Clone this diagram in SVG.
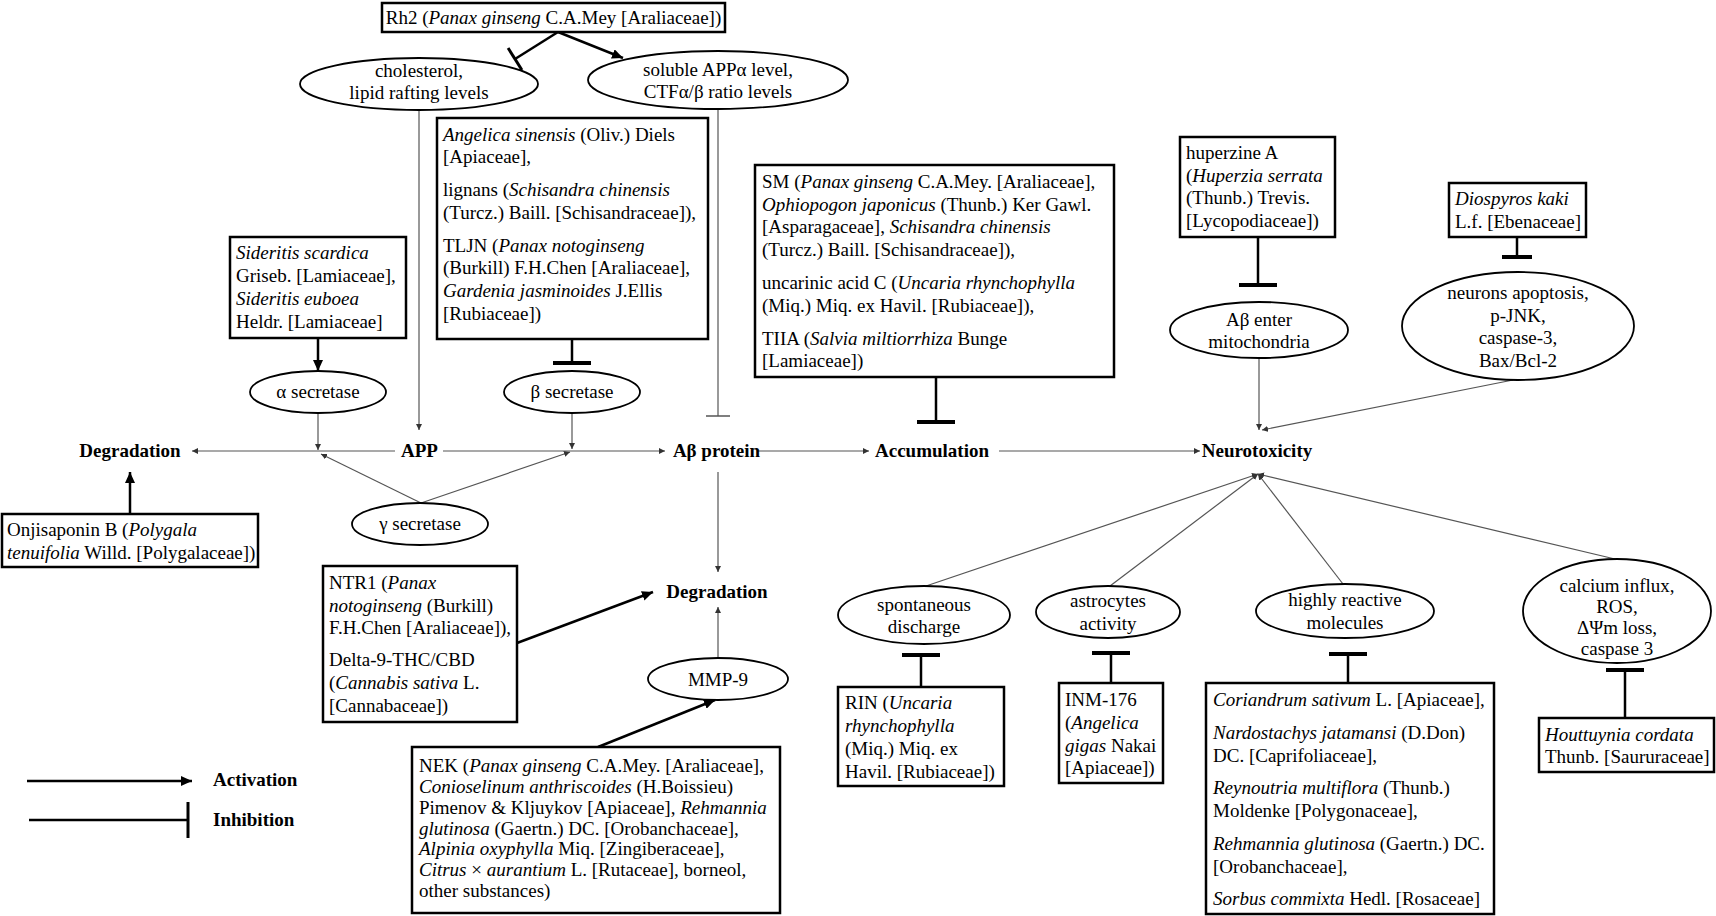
<svg xmlns="http://www.w3.org/2000/svg" width="1716" height="916" viewBox="0 0 1716 916">
<style>
.box{fill:#fff;stroke:#000;stroke-width:2.5}
.ell{fill:#fff;stroke:#000;stroke-width:1.8}
.t{font-family:"Liberation Serif","Times New Roman",serif;font-size:19px;fill:#000}
.b{font-weight:bold}
.c{text-anchor:middle}
.i{font-style:italic}
.thick{stroke:#000;stroke-width:2.5;fill:none}
.thin{stroke:#555;stroke-width:1.2;fill:none}
</style>
<defs>
<marker id="ah" markerUnits="userSpaceOnUse" markerWidth="12" markerHeight="10" refX="11" refY="5" orient="auto"><path d="M0,0 L11,5 L0,10 z" fill="#000"/></marker>
<marker id="as" markerUnits="userSpaceOnUse" markerWidth="7" markerHeight="6" refX="6" refY="3" orient="auto"><path d="M0,0 L6,3 L0,6 z" fill="#333"/></marker>
<marker id="tee" markerUnits="userSpaceOnUse" markerWidth="6" markerHeight="40" refX="3" refY="20" orient="auto"><path d="M3,1 L3,39" stroke="#000" stroke-width="4"/></marker>
<marker id="teeS" markerUnits="userSpaceOnUse" markerWidth="6" markerHeight="32" refX="3" refY="16" orient="auto"><path d="M3,1 L3,31" stroke="#000" stroke-width="4"/></marker>
<marker id="teeR" markerUnits="userSpaceOnUse" markerWidth="6" markerHeight="28" refX="3" refY="14" orient="auto"><path d="M3,1 L3,27" stroke="#000" stroke-width="3"/></marker>
<marker id="teeL" markerUnits="userSpaceOnUse" markerWidth="6" markerHeight="38" refX="3" refY="19" orient="auto"><path d="M3,1 L3,37" stroke="#000" stroke-width="3"/></marker>
<marker id="teeT" markerUnits="userSpaceOnUse" markerWidth="4" markerHeight="26" refX="2" refY="13" orient="auto"><path d="M2,1 L2,25" stroke="#555" stroke-width="1.5"/></marker>
</defs>

<g id="connectors">
<path class="thick" d="M558,32 L515,59" marker-end="url(#teeR)"/>
<path class="thick" d="M558,32 L623,58" marker-end="url(#ah)"/>
<path class="thick" d="M318,338 L318,371" marker-end="url(#ah)"/>
<path class="thick" d="M572,339 L572,363" marker-end="url(#tee)"/>
<path class="thick" d="M936,377 L936,422" marker-end="url(#tee)"/>
<path class="thick" d="M1258,237 L1258,285" marker-end="url(#tee)"/>
<path class="thick" d="M1517,237 L1517,257" marker-end="url(#teeS)"/>
<path class="thick" d="M130,514 L130,472" marker-end="url(#ah)"/>
<path class="thick" d="M517,643 L653,592" marker-end="url(#ah)"/>
<path class="thick" d="M598,747 L715,700" marker-end="url(#ah)"/>
<path class="thick" d="M921,687 L921,655" marker-end="url(#tee)"/>
<path class="thick" d="M1111,683 L1111,653" marker-end="url(#tee)"/>
<path class="thick" d="M1348,683 L1348,654" marker-end="url(#tee)"/>
<path class="thick" d="M1625,718 L1625,670" marker-end="url(#tee)"/>
<path class="thin" d="M419,110 L419,430" marker-end="url(#as)"/>
<path class="thin" d="M718,109 L718,416" marker-end="url(#teeT)"/>
<path class="thin" d="M395,451 L192,451" marker-end="url(#as)"/>
<path class="thin" d="M443,451 L665,451" marker-end="url(#as)"/>
<path class="thin" d="M318,413 L318,450" marker-end="url(#as)"/>
<path class="thin" d="M572,413 L572,449" marker-end="url(#as)"/>
<path class="thin" d="M421,503 L321,454" marker-end="url(#as)"/>
<path class="thin" d="M421,503 L570,452" marker-end="url(#as)"/>
<path class="thin" d="M757,451 L869,451" marker-end="url(#as)"/>
<path class="thin" d="M718,472 L718,572" marker-end="url(#as)"/>
<path class="thin" d="M718,658 L718,607" marker-end="url(#as)"/>
<path class="thin" d="M999,451 L1200,451" marker-end="url(#as)"/>
<path class="thin" d="M1259,358 L1259,430" marker-end="url(#as)"/>
<path class="thin" d="M1513,380 L1262,430" marker-end="url(#as)"/>
<path class="thin" d="M926,586 L1258,474" marker-end="url(#as)"/>
<path class="thin" d="M1110,586 L1258,474" marker-end="url(#as)"/>
<path class="thin" d="M1343,584 L1258,474" marker-end="url(#as)"/>
<path class="thin" d="M1615,559 L1258,474" marker-end="url(#as)"/>
</g>

<g id="legend">
<path class="thick" d="M27,781 L192,781" marker-end="url(#ah)"/>
<path class="thick" d="M29,820 L188,820" marker-end="url(#teeL)"/>
<text class="t b" x="213" y="786">Activation</text>
<text class="t b" x="213" y="826">Inhibition</text>
</g>

<g id="rh2"><rect class="box" x="382" y="3" width="343" height="29"/>
<text class="t c" x="553.5" y="24">Rh2 (<tspan class="i">Panax ginseng</tspan> C.A.Mey [Araliaceae])</text></g>

<g id="cholesterol"><ellipse class="ell" cx="419" cy="84" rx="119" ry="26"/>
<text class="t c" x="419" y="77">cholesterol,</text>
<text class="t c" x="419" y="99">lipid rafting levels</text></g>

<g id="soluble"><ellipse class="ell" cx="718" cy="80" rx="130" ry="29"/>
<text class="t c" x="718" y="76">soluble APPα level,</text>
<text class="t c" x="718" y="98">CTFα/β ratio levels</text></g>

<g id="angelica"><rect class="box" x="437" y="118" width="271" height="221"/>
<text class="t" x="443" y="141"><tspan class="i">Angelica sinensis</tspan> (Oliv.) Diels</text>
<text class="t" x="443" y="163">[Apiaceae],</text>
<text class="t" x="443" y="196">lignans (<tspan class="i">Schisandra chinensis</tspan></text>
<text class="t" x="443" y="219">(Turcz.) Baill. [Schisandraceae]),</text>
<text class="t" x="443" y="252">TLJN (<tspan class="i">Panax notoginseng</tspan></text>
<text class="t" x="443" y="274">(Burkill) F.H.Chen [Araliaceae],</text>
<text class="t" x="443" y="297"><tspan class="i">Gardenia jasminoides</tspan> J.Ellis</text>
<text class="t" x="443" y="320">[Rubiaceae])</text></g>

<g id="sideritis"><rect class="box" x="230" y="237" width="176" height="101"/>
<text class="t" x="236" y="259"><tspan class="i">Sideritis scardica</tspan></text>
<text class="t" x="236" y="282">Griseb. [Lamiaceae],</text>
<text class="t" x="236" y="305"><tspan class="i">Sideritis euboea</tspan></text>
<text class="t" x="236" y="328">Heldr. [Lamiaceae]</text></g>

<g id="alpha"><ellipse class="ell" cx="318" cy="392" rx="68" ry="21"/><text class="t c" x="318" y="398">α secretase</text></g>
<g id="beta"><ellipse class="ell" cx="572" cy="392" rx="68" ry="21"/><text class="t c" x="572" y="398">β secretase</text></g>
<g id="gamma"><ellipse class="ell" cx="420" cy="524" rx="68" ry="21"/><text class="t c" x="420" y="530">γ secretase</text></g>

<g id="degradation-left"><text class="t b c" x="130" y="457">Degradation</text></g>
<g id="app"><text class="t b c" x="419.5" y="457">APP</text></g>
<g id="abeta"><text class="t b c" x="716.5" y="457">Aβ protein</text></g>
<g id="accumulation"><text class="t b c" x="932" y="457">Accumulation</text></g>
<g id="neurotoxicity"><text class="t b c" x="1257" y="457">Neurotoxicity</text></g>
<g id="degradation-mid"><text class="t b c" x="717" y="598">Degradation</text></g>

<g id="onjisaponin"><rect class="box" x="2" y="514" width="256" height="53"/>
<text class="t" x="7" y="536">Onjisaponin B (<tspan class="i">Polygala</tspan></text>
<text class="t" x="7" y="559"><tspan class="i">tenuifolia</tspan> Willd. [Polygalaceae])</text></g>

<g id="ntr1"><rect class="box" x="323" y="566" width="194" height="156"/>
<text class="t" x="329" y="589">NTR1 (<tspan class="i">Panax</tspan></text>
<text class="t" x="329" y="612"><tspan class="i">notoginseng</tspan> (Burkill)</text>
<text class="t" x="329" y="634">F.H.Chen [Araliaceae]),</text>
<text class="t" x="329" y="666">Delta-9-THC/CBD</text>
<text class="t" x="329" y="689">(<tspan class="i">Cannabis sativa</tspan> L.</text>
<text class="t" x="329" y="712">[Cannabaceae])</text></g>

<g id="mmp9"><ellipse class="ell" cx="718" cy="679" rx="70" ry="21"/><text class="t c" x="718" y="686">MMP-9</text></g>

<g id="nek"><rect class="box" x="412" y="747" width="368" height="166"/>
<text class="t" x="419" y="772">NEK (<tspan class="i">Panax ginseng</tspan> C.A.Mey. [Araliaceae],</text>
<text class="t" x="419" y="793"><tspan class="i">Conioselinum anthriscoides</tspan> (H.Boissieu)</text>
<text class="t" x="419" y="814">Pimenov &amp; Kljuykov [Apiaceae], <tspan class="i">Rehmannia</tspan></text>
<text class="t" x="419" y="835"><tspan class="i">glutinosa</tspan> (Gaertn.) DC. [Orobanchaceae],</text>
<text class="t" x="419" y="855"><tspan class="i">Alpinia oxyphylla</tspan> Miq. [Zingiberaceae],</text>
<text class="t" x="419" y="876"><tspan class="i">Citrus</tspan> × <tspan class="i">aurantium</tspan> L. [Rutaceae], borneol,</text>
<text class="t" x="419" y="897">other substances)</text></g>

<g id="sm"><rect class="box" x="755" y="165" width="359" height="212"/>
<text class="t" x="762" y="188">SM (<tspan class="i">Panax ginseng</tspan> C.A.Mey. [Araliaceae],</text>
<text class="t" x="762" y="211"><tspan class="i">Ophiopogon japonicus</tspan> (Thunb.) Ker Gawl.</text>
<text class="t" x="762" y="233">[Asparagaceae], <tspan class="i">Schisandra chinensis</tspan></text>
<text class="t" x="762" y="256">(Turcz.) Baill. [Schisandraceae]),</text>
<text class="t" x="762" y="289">uncarinic acid C (<tspan class="i">Uncaria rhynchophylla</tspan></text>
<text class="t" x="762" y="312">(Miq.) Miq. ex Havil. [Rubiaceae]),</text>
<text class="t" x="762" y="345">TIIA (<tspan class="i">Salvia miltiorrhiza</tspan> Bunge</text>
<text class="t" x="762" y="367">[Lamiaceae])</text></g>

<g id="huperzine"><rect class="box" x="1180" y="137" width="155" height="100"/>
<text class="t" x="1186" y="159">huperzine A</text>
<text class="t" x="1186" y="182">(<tspan class="i">Huperzia serrata</tspan></text>
<text class="t" x="1186" y="204">(Thunb.) Trevis.</text>
<text class="t" x="1186" y="227">[Lycopodiaceae])</text></g>

<g id="diospyros"><rect class="box" x="1449" y="183" width="137" height="54"/>
<text class="t" x="1455" y="205"><tspan class="i">Diospyros kaki</tspan></text>
<text class="t" x="1455" y="228">L.f. [Ebenaceae]</text></g>

<g id="mito"><ellipse class="ell" cx="1259" cy="330" rx="89" ry="28"/>
<text class="t c" x="1259" y="326">Aβ enter</text>
<text class="t c" x="1259" y="348">mitochondria</text></g>

<g id="neurons"><ellipse class="ell" cx="1518" cy="326" rx="116" ry="54"/>
<text class="t c" x="1518" y="299">neurons apoptosis,</text>
<text class="t c" x="1518" y="322">p-JNK,</text>
<text class="t c" x="1518" y="344">caspase-3,</text>
<text class="t c" x="1518" y="367">Bax/Bcl-2</text></g>

<g id="spontaneous"><ellipse class="ell" cx="924" cy="615" rx="86" ry="29"/>
<text class="t c" x="924" y="611">spontaneous</text>
<text class="t c" x="924" y="633">discharge</text></g>

<g id="astrocytes"><ellipse class="ell" cx="1108" cy="612" rx="72" ry="26"/>
<text class="t c" x="1108" y="607">astrocytes</text>
<text class="t c" x="1108" y="630">activity</text></g>

<g id="reactive"><ellipse class="ell" cx="1345" cy="611" rx="89" ry="27"/>
<text class="t c" x="1345" y="606">highly reactive</text>
<text class="t c" x="1345" y="629">molecules</text></g>

<g id="calcium"><ellipse class="ell" cx="1617" cy="611" rx="94" ry="52"/>
<text class="t c" x="1617" y="592">calcium influx,</text>
<text class="t c" x="1617" y="613">ROS,</text>
<text class="t c" x="1617" y="634">ΔΨm loss,</text>
<text class="t c" x="1617" y="655">caspase 3</text></g>

<g id="rin"><rect class="box" x="838" y="687" width="166" height="99"/>
<text class="t" x="845" y="709">RIN (<tspan class="i">Uncaria</tspan></text>
<text class="t" x="845" y="732"><tspan class="i">rhynchophylla</tspan></text>
<text class="t" x="845" y="755">(Miq.) Miq. ex</text>
<text class="t" x="845" y="778">Havil. [Rubiaceae])</text></g>

<g id="inm176"><rect class="box" x="1059" y="683" width="104" height="100"/>
<text class="t" x="1065" y="706">INM-176</text>
<text class="t" x="1065" y="729">(<tspan class="i">Angelica</tspan></text>
<text class="t" x="1065" y="752"><tspan class="i">gigas</tspan> Nakai</text>
<text class="t" x="1065" y="774">[Apiaceae])</text></g>

<g id="coriandrum"><rect class="box" x="1206" y="683" width="288" height="231"/>
<text class="t" x="1213" y="706"><tspan class="i">Coriandrum sativum</tspan> L. [Apiaceae],</text>
<text class="t" x="1213" y="739"><tspan class="i">Nardostachys jatamansi</tspan> (D.Don)</text>
<text class="t" x="1213" y="762">DC. [Caprifoliaceae],</text>
<text class="t" x="1213" y="794"><tspan class="i">Reynoutria multiflora</tspan> (Thunb.)</text>
<text class="t" x="1213" y="817">Moldenke [Polygonaceae],</text>
<text class="t" x="1213" y="850"><tspan class="i">Rehmannia glutinosa</tspan> (Gaertn.) DC.</text>
<text class="t" x="1213" y="873">[Orobanchaceae],</text>
<text class="t" x="1213" y="905"><tspan class="i">Sorbus commixta</tspan> Hedl. [Rosaceae]</text></g>

<g id="houttuynia"><rect class="box" x="1539" y="718" width="175" height="54"/>
<text class="t" x="1545" y="741"><tspan class="i">Houttuynia cordata</tspan></text>
<text class="t" x="1545" y="763">Thunb. [Saururaceae]</text></g>
</svg>
